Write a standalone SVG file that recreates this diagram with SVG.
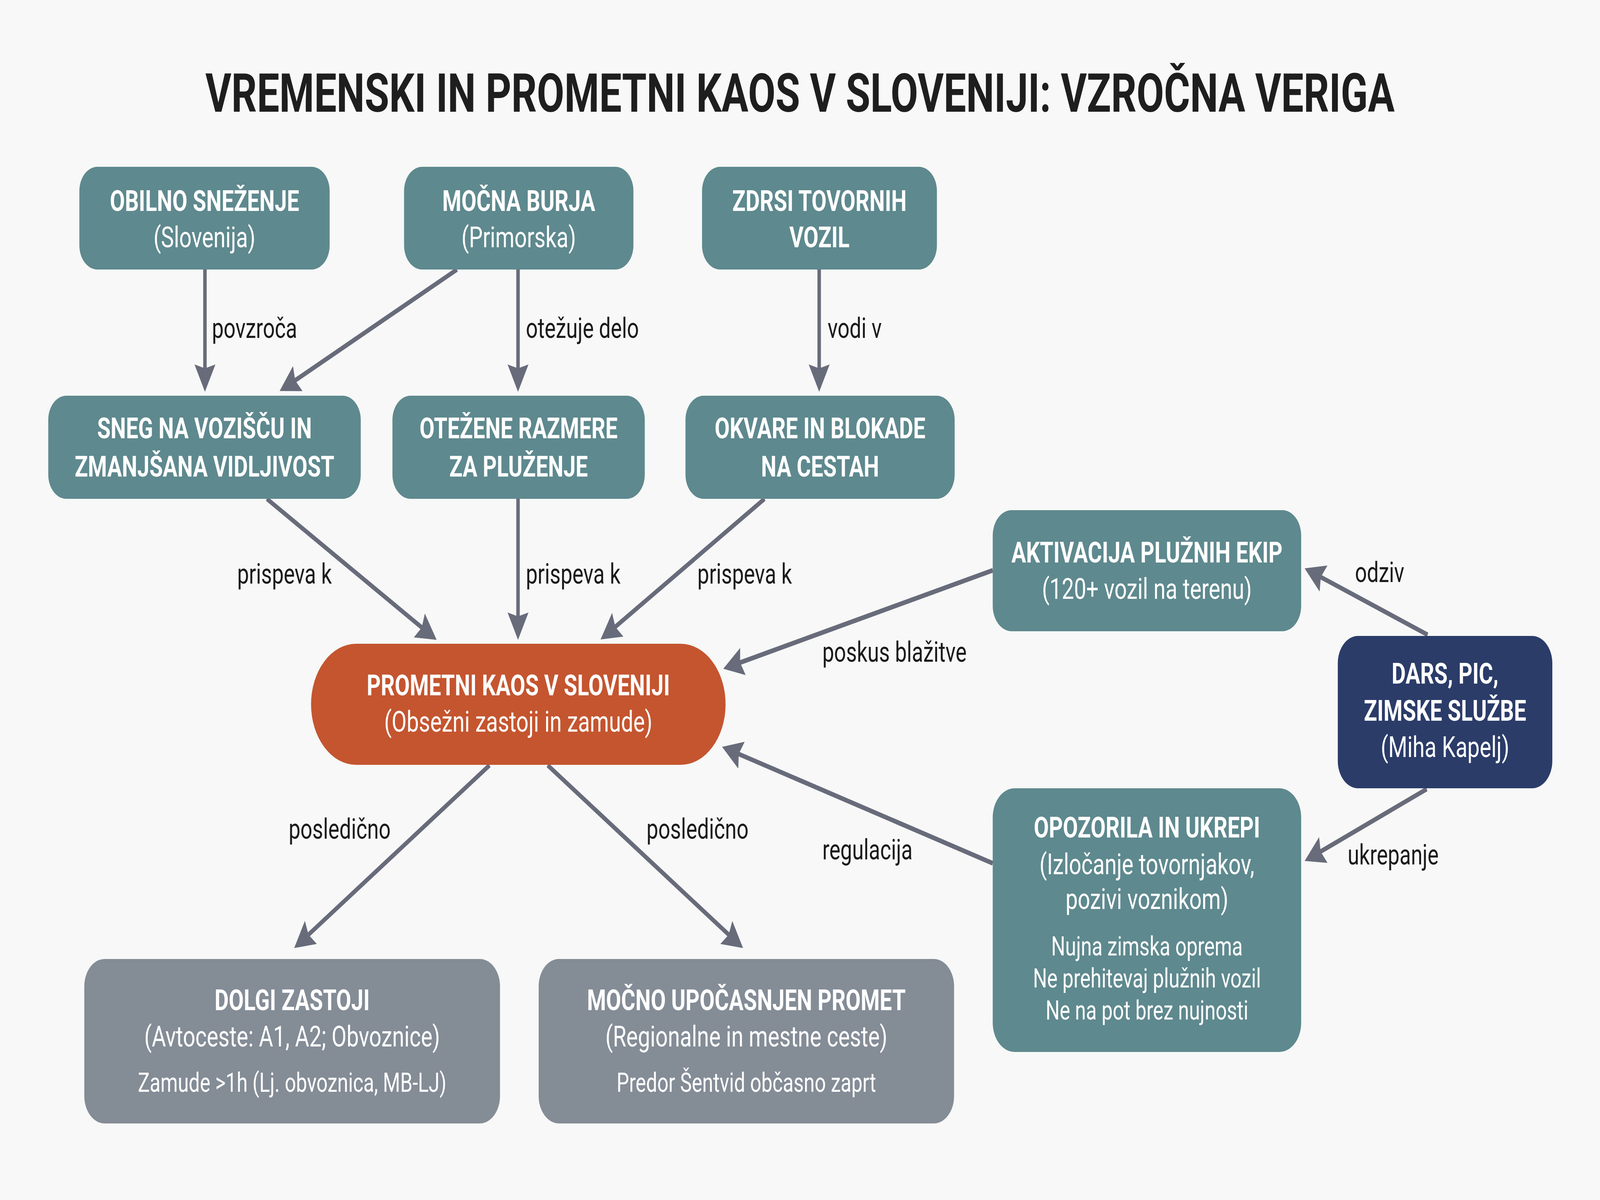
<svg xmlns="http://www.w3.org/2000/svg" width="5504" height="3072" viewBox="0 0 5504 3072" preserveAspectRatio="none">
<style>
:root{width:100vw;height:100vh;display:block}
.t{font-family:Roboto,"Liberation Sans",sans-serif;font-weight:700;font-size:137px;fill:#1e1e1e;text-anchor:middle}
.nb{font-family:Roboto,"Liberation Sans",sans-serif;font-weight:700;font-size:75px;fill:#ffffff;text-anchor:middle}
.nr{font-family:Roboto,"Liberation Sans",sans-serif;font-weight:400;font-size:75px;fill:#ffffff;text-anchor:middle}
.ns{font-family:Roboto,"Liberation Sans",sans-serif;font-weight:400;font-size:68px;fill:#ffffff;text-anchor:middle}
.lb{font-family:Roboto,"Liberation Sans",sans-serif;font-weight:400;font-size:72px;fill:#1a1a1a}
.teal{fill:#5e898e}
.orange{fill:#c4552f}
.gray{fill:#848c96}
.navy{fill:#2b3c69}
.edge{fill:none;stroke:#686b7a;stroke-width:12;marker-end:url(#arr)}
</style>
<defs>
<marker id="arr" markerUnits="userSpaceOnUse" markerWidth="72" markerHeight="72" refX="40" refY="36" orient="auto">
<path d="M0,0 L70,36 L0,72 L10,36 Z" fill="#686b7a"/>
</marker>
</defs>
<rect x="0" y="0" width="5504" height="3072" fill="#f7f8f7"/>
<text class="t" x="2752" y="286">VREMENSKI IN PROMETNI KAOS V SLOVENIJI: VZROČNA VERIGA</text>

<g id="connectors">
<line class="edge" x1="705" y1="690" x2="705" y2="973"/>
<line class="edge" x1="1572" y1="690" x2="988.7" y2="987.4"/>
<line class="edge" x1="1782" y1="690" x2="1782" y2="973"/>
<line class="edge" x1="2818" y1="690" x2="2818" y2="973"/>
<line class="edge" x1="918" y1="1277" x2="1476.5" y2="1622.2"/>
<line class="edge" x1="1782" y1="1277" x2="1782" y2="1608"/>
<line class="edge" x1="2630" y1="1277" x2="2091.3" y2="1620.9"/>
<line class="edge" x1="3415" y1="1460" x2="2517" y2="1704.1"/>
<line class="edge" x1="3415" y1="2210" x2="2512.6" y2="1921.1"/>
<line class="edge" x1="4911" y1="1625" x2="4515.8" y2="1466.2"/>
<line class="edge" x1="4908" y1="2020" x2="4515.5" y2="2192"/>
<line class="edge" x1="1684" y1="1959" x2="1036.6" y2="2409.9"/>
<line class="edge" x1="1884" y1="1959" x2="2531.4" y2="2409.9"/>
<text class="lb" x="729" y="865">povzroča</text>
<text class="lb" x="1809" y="865">otežuje delo</text>
<text class="lb" x="2847" y="865">vodi v</text>
<text class="lb" x="816" y="1494">prispeva k</text>
<text class="lb" x="1809" y="1494">prispeva k</text>
<text class="lb" x="2399" y="1494">prispeva k</text>
<text class="lb" x="2829" y="1694">poskus blažitve</text>
<text class="lb" x="2829" y="2200">regulacija</text>
<text class="lb" x="4661" y="1490">odziv</text>
<text class="lb" x="4636" y="2213">ukrepanje</text>
<text class="lb" x="993" y="2147">posledično</text>
<text class="lb" x="2224" y="2147">posledično</text>
</g>

<g id="n1">
<rect class="teal" x="273" y="427" width="861" height="263" rx="62"/>
<text class="nb" x="703.5" y="540">OBILNO SNEŽENJE</text>
<text class="nr" x="703.5" y="633">(Slovenija)</text>
</g>
<g id="n2">
<rect class="teal" x="1390" y="427" width="789" height="263" rx="62"/>
<text class="nb" x="1784.5" y="540">MOČNA BURJA</text>
<text class="nr" x="1784.5" y="633">(Primorska)</text>
</g>
<g id="n3">
<rect class="teal" x="2415" y="427" width="808" height="263" rx="62"/>
<text class="nb" x="2819" y="540">ZDRSI TOVORNIH</text>
<text class="nb" x="2819" y="633">VOZIL</text>
</g>
<g id="n4">
<rect class="teal" x="166" y="1013" width="1075" height="264" rx="62"/>
<text class="nb" x="703.5" y="1122">SNEG NA VOZIŠČU IN</text>
<text class="nb" x="703.5" y="1220">ZMANJŠANA VIDLJIVOST</text>
</g>
<g id="n5">
<rect class="teal" x="1350" y="1013" width="868" height="264" rx="62"/>
<text class="nb" x="1784" y="1122">OTEŽENE RAZMERE</text>
<text class="nb" x="1784" y="1220">ZA PLUŽENJE</text>
</g>
<g id="n6">
<rect class="teal" x="2358" y="1013" width="926" height="264" rx="62"/>
<text class="nb" x="2821" y="1122">OKVARE IN BLOKADE</text>
<text class="nb" x="2821" y="1220">NA CESTAH</text>
</g>
<g id="n7">
<rect class="orange" x="1070" y="1648" width="1426" height="310" rx="155"/>
<text class="nb" x="1783" y="1780">PROMETNI KAOS V SLOVENIJI</text>
<text class="nr" x="1783" y="1873">(Obsežni zastoji in zamude)</text>
</g>
<g id="n8">
<rect class="teal" x="3415" y="1306" width="1061" height="310" rx="65"/>
<text class="nb" x="3945.5" y="1440">AKTIVACIJA PLUŽNIH EKIP</text>
<text class="nr" x="3945.5" y="1533">(120+ vozil na terenu)</text>
</g>
<g id="n9">
<rect class="navy" x="4602" y="1628" width="738" height="390" rx="70"/>
<text class="nb" x="4971" y="1750">DARS, PIC,</text>
<text class="nb" x="4971" y="1845">ZIMSKE SLUŽBE</text>
<text class="nr" x="4971" y="1938">(Miha Kapelj)</text>
</g>
<g id="n10">
<rect class="teal" x="3415" y="2018" width="1061" height="675" rx="75"/>
<text class="nb" x="3945.5" y="2144">OPOZORILA IN UKREPI</text>
<text class="nr" x="3945.5" y="2238">(Izločanje tovornjakov,</text>
<text class="nr" x="3945.5" y="2327">pozivi voznikom)</text>
<text class="ns" x="3945.5" y="2446">Nujna zimska oprema</text>
<text class="ns" x="3945.5" y="2528">Ne prehitevaj plužnih vozil</text>
<text class="ns" x="3945.5" y="2610">Ne na pot brez nujnosti</text>
</g>
<g id="n11">
<rect class="gray" x="290" y="2455" width="1430" height="421" rx="70"/>
<text class="nb" x="1005" y="2586">DOLGI ZASTOJI</text>
<text class="nr" x="1005" y="2679">(Avtoceste: A1, A2; Obvoznice)</text>
<text class="ns" x="1005" y="2795">Zamude &gt;1h (Lj. obvoznica, MB-LJ)</text>
</g>
<g id="n12">
<rect class="gray" x="1853" y="2455" width="1429" height="421" rx="70"/>
<text class="nb" x="2567.5" y="2586">MOČNO UPOČASNJEN PROMET</text>
<text class="nr" x="2567.5" y="2679">(Regionalne in mestne ceste)</text>
<text class="ns" x="2567.5" y="2795">Predor Šentvid občasno zaprt</text>
</g>
</svg>
